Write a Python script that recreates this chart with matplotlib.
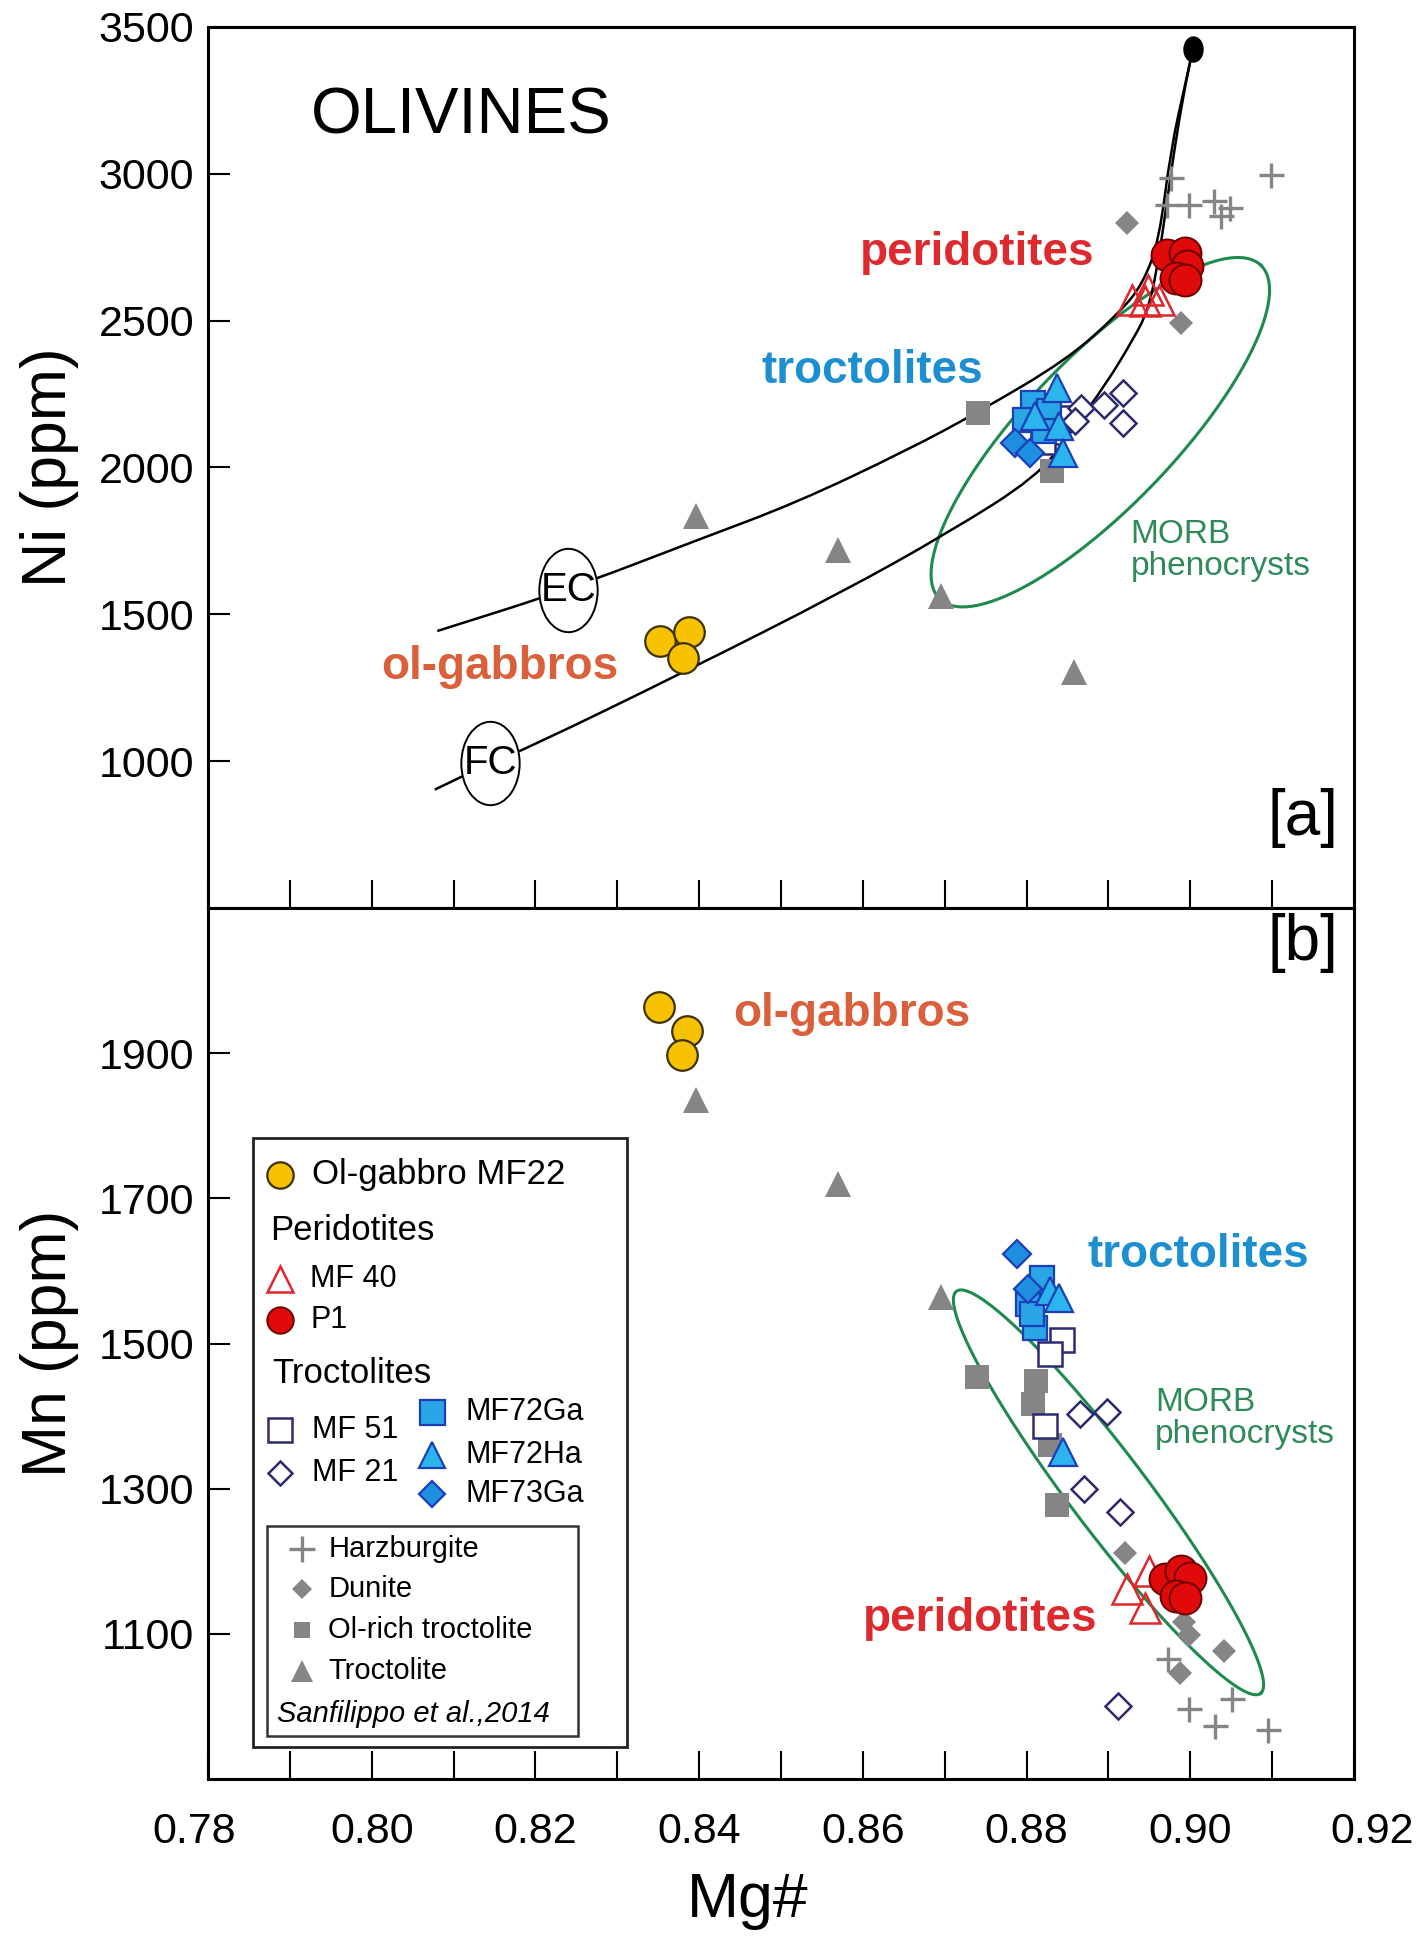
import numpy as np
import matplotlib.pyplot as plt
from matplotlib.path import Path
from matplotlib.patches import Rectangle, PathPatch
from matplotlib.transforms import ScaledTranslation

plt.rcParams['font.family'] = ['Liberation Sans', 'DejaVu Sans']

# ------------------------------------------
# Data: Mg# vs Ni (panel a) and Mg# vs Mn (panel b)
# ------------------------------------------
# Ol-gabbro MF22
gab_mg_a = [0.8352, 0.8387, 0.8380]
gab_ni = [1409, 1439, 1350]
gab_mg_b = [0.8351, 0.8385, 0.8379]
gab_mn = [1964, 1930, 1897]

# Peridotites MF 40 and P1
mf40_mg_a = [0.8929, 0.8948, 0.8962, 0.8945]
mf40_ni = [2571, 2605, 2571, 2566]
mf40_mg_b = [0.8949, 0.8923, 0.8945]
mf40_mn = [1186, 1162, 1135]

p1_mg_a = [0.8972, 0.8994, 0.8996, 0.8982, 0.8994]
p1_ni = [2724, 2730, 2685, 2645, 2639]
p1_mg_b = [0.8969, 0.8988, 0.9000, 0.8983, 0.8994]
p1_mn = [1175, 1186, 1177, 1152, 1149]

# Troctolites
mf51_mg_a = [0.8843, 0.8829, 0.8820]
mf51_ni = [2170, 2120, 2085]
mf51_mg_b = [0.8843, 0.8829, 0.8823]
mf51_mn = [1505, 1485, 1386]

mf21_mg_a = [0.8867, 0.8894, 0.8918, 0.8918, 0.8859]
mf21_ni = [2203, 2214, 2253, 2151, 2157]
mf21_mg_b = [0.8865, 0.8898, 0.8870, 0.8914, 0.8912]
mf21_mn = [1403, 1406, 1299, 1268, 1000]

mf72ga_mg_a = [0.8808, 0.8798, 0.8827, 0.8821]
mf72ga_ni = [2221, 2163, 2191, 2123]
mf72ga_mg_b = [0.8819, 0.8802, 0.8810, 0.8806]
mf72ga_mn = [1590, 1555, 1522, 1540]

mf72ha_mg_a = [0.8837, 0.8810, 0.8839, 0.8845]
mf72ha_ni = [2271, 2174, 2140, 2049]
mf72ha_mg_b = [0.8828, 0.8839, 0.8845]
mf72ha_mn = [1572, 1563, 1350]

mf73ga_mg_a = [0.8786, 0.8804]
mf73ga_ni = [2083, 2049]
mf73ga_mg_b = [0.8788, 0.8802]
mf73ga_mn = [1623, 1575]

# Sanfilippo et al. (2014) reference samples
hz_mg_a = [0.9098, 0.8976, 0.8971, 0.8998, 0.9029, 0.9038, 0.9049]
hz_ni = [2997, 2985, 2895, 2895, 2906, 2855, 2883]
hz_mg_b = [0.8973, 0.8998, 0.9030, 0.9051, 0.9095]
hz_mn = [1065, 996, 973, 1011, 968]

dun_mg_a = [0.8923, 0.8989]
dun_ni = [2831, 2492]
dun_mg_b = [0.8920, 0.8992, 0.8998, 0.9041, 0.8987]
dun_mn = [1211, 1117, 1099, 1076, 1046]

olt_mg_a = [0.8740, 0.8831]
olt_ni = [2187, 1987]
olt_mg_b = [0.8739, 0.8811, 0.8808, 0.8829, 0.8837]
olt_mn = [1454, 1448, 1416, 1360, 1278]

tro_mg_a = [0.8396, 0.8570, 0.8696, 0.8858]
tro_ni = [1834, 1720, 1561, 1304]
tro_mg_b = [0.8396, 0.8570, 0.8696]
tro_mn = [1836, 1720, 1564]

# Model curves (equilibrium and fractional crystallization)
ec_mg = [0.8080, 0.8240, 0.8399, 0.8519, 0.8655, 0.8740, 0.8850, 0.8913,
         0.8942, 0.8962, 0.8976, 0.8994, 0.9003]
ec_ni = [1443, 1584, 1754, 1880, 2060, 2187, 2368, 2526, 2625, 2776, 3082,
         3309, 3422]
fc_mg = [0.8077, 0.8145, 0.8192, 0.8388, 0.8573, 0.8704, 0.8813, 0.8852,
         0.8898, 0.8930, 0.8947, 0.8959, 0.8970, 0.8983, 0.8995, 0.9003]
fc_ni = [903, 994, 1046, 1312, 1573, 1777, 1969, 2112, 2288, 2436, 2526,
         2667, 2877, 3130, 3319, 3422]
ec_tag = (0.8240, 1584)
fc_tag = (0.8145, 994)
start_mg, start_ni = 0.9003, 3424

# MORB phenocryst fields: centre and two conjugate semi-axes
morb_a = dict(c=(0.8890, 2120), u=(0.01963, 568), v=(0.00649, -177))
morb_b = dict(c=(0.8900, 1295), u=(0.01857, -277), v=(0.00377, 32))

mg_ticks = np.round(np.arange(0.78, 0.9201, 0.01), 2)

# ------------------------------------------
# Styles
# ------------------------------------------
GRAY = '#858585'
NAVY = '#2b2a70'
BLUE_EDGE = '#1a3fb8'
GREEN = '#1e8a4e'
C_GAB = dict(marker='o', ms=22, mfc='#f7c200', mec='#3d3200', mew=1.6)
C_MF40 = dict(marker='^', ms=21, mfc='none', mec='#e0262b', mew=1.8)
C_P1 = dict(marker='o', ms=23, mfc='#e00a0a', mec='#6e0000', mew=1.4)
C_MF51 = dict(marker='s', ms=17, mfc='white', mec=NAVY, mew=1.8)
C_MF21 = dict(marker='D', ms=13.5, mfc='white', mec=NAVY, mew=1.8)
C_72GA = dict(marker='s', ms=17, mfc='#2aa6e6', mec=BLUE_EDGE, mew=1.6)
C_72HA = dict(marker='^', ms=20, mfc='#2cb5ec', mec=BLUE_EDGE, mew=1.6)
C_73GA = dict(marker='D', ms=14, mfc='#1e8fe0', mec=BLUE_EDGE, mew=1.6)
C_HZ = dict(marker='+', ms=18, mec=GRAY, mew=2.4)
C_DUN = dict(marker='D', ms=12, mfc=GRAY, mec=GRAY, mew=0)
C_OLT = dict(marker='s', ms=17, mfc=GRAY, mec=GRAY, mew=0)
C_TRO = dict(marker='^', ms=19, mfc=GRAY, mec=GRAY, mew=0)


def oval(ratio):
    circ = Path.unit_circle()
    return Path(circ.vertices * [ratio, 1.0], circ.codes)


def pts(ax, x, y, style, z=3):
    ax.plot(x, y, ls='none', zorder=z, **style)


def smooth(ax, xs, ys):
    # quadratic Bezier through the midpoints of the polyline
    p = np.column_stack([xs, ys])
    mid = (p[:-1] + p[1:]) / 2
    verts = [p[0], mid[0]]
    codes = [Path.MOVETO, Path.LINETO]
    for i in range(1, len(p) - 1):
        verts += [p[i], mid[i]]
        codes += [Path.CURVE3, Path.CURVE3]
    verts.append(p[-1])
    codes.append(Path.LINETO)
    ax.add_patch(PathPatch(Path(verts, codes), fill=False, ec='black',
                           lw=1.8, zorder=2))


def field(ax, f):
    t = np.linspace(0, 2 * np.pi, 300)
    x = f['c'][0] + f['u'][0] * np.cos(t) + f['v'][0] * np.sin(t)
    y = f['c'][1] + f['u'][1] * np.cos(t) + f['v'][1] * np.sin(t)
    ax.plot(x, y, color=GREEN, lw=2.2, zorder=2)


def frame(ax, yticks, ylim):
    ax.set_xlim(0.78, 0.92)
    ax.set_ylim(*ylim)
    ax.set_xticks(mg_ticks)
    ax.set_xticklabels([f'{v:.2f}' if i % 2 == 0 else '' for i, v in enumerate(mg_ticks)])
    ax.set_yticks(yticks)
    ax.tick_params(axis='x', direction='in', length=20, width=1.5,
                   labelsize=31, pad=24)
    ax.tick_params(axis='y', direction='in', length=16, width=1.5,
                   labelsize=31, pad=10)
    for s in ax.spines.values():
        s.set_linewidth(2.2)


fig = plt.figure(figsize=(14.21, 19.38), dpi=100)
ax1 = fig.add_axes([0.1464, 0.5315, 0.8065, 0.4546])
ax2 = fig.add_axes([0.1464, 0.0820, 0.8065, 0.4495])

# ------------------------------------------
# [a] Ni vs Mg#
# ------------------------------------------
frame(ax1, [1000, 1500, 2000, 2500, 3000, 3500], (500, 3500))
ax1.tick_params(axis='x', labelbottom=False)
ax1.set_ylabel('Ni (ppm)', fontsize=45)
ax1.yaxis.set_label_coords(-0.113, 0.5)

field(ax1, morb_a)
smooth(ax1, ec_mg, ec_ni)
smooth(ax1, fc_mg, fc_ni)
ax1.plot([start_mg], [start_ni], ls='none', marker=oval(0.76), ms=18,
         mfc='black', mec='black', zorder=5)

pts(ax1, hz_mg_a, hz_ni, C_HZ)
pts(ax1, dun_mg_a, dun_ni, C_DUN)
pts(ax1, olt_mg_a, olt_ni, C_OLT)
pts(ax1, tro_mg_a, tro_ni, C_TRO)
pts(ax1, gab_mg_a, gab_ni, C_GAB, 4)
pts(ax1, mf51_mg_a, mf51_ni, C_MF51, 4)
pts(ax1, mf21_mg_a, mf21_ni, C_MF21, 4)
pts(ax1, mf72ga_mg_a, mf72ga_ni, C_72GA, 5)
pts(ax1, mf73ga_mg_a, mf73ga_ni, C_73GA, 5)
pts(ax1, mf72ha_mg_a, mf72ha_ni, C_72HA, 6)
pts(ax1, mf40_mg_a, mf40_ni, C_MF40, 6)
pts(ax1, p1_mg_a, p1_ni, C_P1, 6)

# curve tags
narrow = ['Liberation Sans Narrow', 'Liberation Sans']
for (x, y), tag in [(ec_tag, 'EC'), (fc_tag, 'FC')]:
    ax1.plot([x], [y], ls='none', marker=oval(0.7), ms=60, mfc='white',
             mec='black', mew=1.4, zorder=6)
    ax1.text(x, y, tag, ha='center', va='center', fontsize=29,
             family=narrow, zorder=7)

ax1.text(0.0899, 0.898, 'OLIVINES', transform=ax1.transAxes, fontsize=47,
         ha='left', va='center')
ax1.text(0.986, 0.102, '[a]', transform=ax1.transAxes, fontsize=46,
         ha='right', va='center')
ax1.text(0.8739, 2730, 'peridotites', color='#dc2a2e', fontsize=33,
         fontweight='bold', ha='center', va='center')
ax1.text(0.8612, 2330, 'troctolites', color='#1d8fd0', fontsize=33,
         fontweight='bold', ha='center', va='center')
ax1.text(0.8157, 1321, 'ol-gabbros', color='#d9603a', fontsize=33,
         fontweight='bold', ha='center', va='center')
ax1.text(0.8927, 1718, 'MORB\nphenocrysts', color='#2e8b57', fontsize=24,
         ha='left', va='center', linespacing=1.05)

# ------------------------------------------
# [b] Mn vs Mg#
# ------------------------------------------
frame(ax2, [1100, 1300, 1500, 1700, 1900], (900, 2100))
ax2.set_xlabel('Mg#', fontsize=45)
ax2.xaxis.set_label_coords(0.471, -0.105)
ax2.set_ylabel('Mn (ppm)', fontsize=45)
ax2.yaxis.set_label_coords(-0.113, 0.5)

# end labels sit slightly outside the frame
ticklabels = ax2.get_xticklabels()
for lbl, dx in [(ticklabels[0], -0.14), (ticklabels[-1], 0.18)]:
    lbl.set_transform(lbl.get_transform() + ScaledTranslation(dx, 0, fig.dpi_scale_trans))

field(ax2, morb_b)
pts(ax2, hz_mg_b, hz_mn, C_HZ)
pts(ax2, dun_mg_b, dun_mn, C_DUN)
pts(ax2, olt_mg_b, olt_mn, C_OLT)
pts(ax2, tro_mg_b, tro_mn, C_TRO)
pts(ax2, gab_mg_b, gab_mn, C_GAB, 4)
pts(ax2, mf51_mg_b, mf51_mn, C_MF51, 4)
pts(ax2, mf21_mg_b, mf21_mn, C_MF21, 4)
pts(ax2, mf72ga_mg_b, mf72ga_mn, C_72GA, 5)
pts(ax2, mf73ga_mg_b, mf73ga_mn, C_73GA, 5)
pts(ax2, mf72ha_mg_b, mf72ha_mn, C_72HA, 6)
pts(ax2, mf40_mg_b, mf40_mn, C_MF40, 6)
pts(ax2, p1_mg_b, p1_mn, C_P1, 6)

ax2.text(0.986, 0.960, '[b]', transform=ax2.transAxes, fontsize=46,
         ha='right', va='center')
ax2.text(0.8586, 1954, 'ol-gabbros', color='#d9603a', fontsize=33,
         fontweight='bold', ha='center', va='center')
ax2.text(0.9010, 1622, 'troctolites', color='#1d8fd0', fontsize=33,
         fontweight='bold', ha='center', va='center')
ax2.text(0.8743, 1121, 'peridotites', color='#dc2a2e', fontsize=33,
         fontweight='bold', ha='center', va='center')
ax2.text(0.8957, 1397, 'MORB\nphenocrysts', color='#2e8b57', fontsize=24,
         ha='left', va='center', linespacing=1.05)

# ------------------------------------------
# Legend (drawn by hand, axes coordinates of panel b)
# ------------------------------------------
T = ax2.transAxes
ax2.add_patch(Rectangle((0.0395, 0.0373), 0.3257, 0.6982, transform=T,
                        fill=True, fc='white', ec='#222222', lw=2.0, zorder=8))
ax2.add_patch(Rectangle((0.0512, 0.0494), 0.2717, 0.2411, transform=T,
                        fill=False, ec='#333333', lw=1.8, zorder=9))


def key(x, y, label, style, tx, size=23, italic=False):
    if style is not None:
        ax2.plot([x], [y], transform=T, ls='none', clip_on=False, zorder=10,
                 **style)
    ax2.text(tx, y, label, transform=T, fontsize=size, ha='left',
             va='center', zorder=10, style='italic' if italic else 'normal')


key(0.0628, 0.6935, 'Ol-gabbro MF22', dict(C_GAB, ms=19), 0.0905, 25)
key(0, 0.6303, 'Peridotites', None, 0.0541, 25)
key(0.0628, 0.5741, 'MF 40', dict(C_MF40, ms=19), 0.0890, 22)
key(0.0628, 0.5270, 'P1', dict(C_P1, ms=19), 0.0890, 22)
key(0, 0.4661, 'Troctolites', None, 0.0556, 25)
key(0.0628, 0.4007, 'MF 51', dict(C_MF51, ms=17), 0.0905, 22)
key(0.0628, 0.3513, 'MF 21', dict(C_MF21, ms=12), 0.0905, 22)
key(0.1952, 0.4216, 'MF72Ga', dict(C_72GA, ms=18), 0.2243, 22)
key(0.1952, 0.3723, 'MF72Ha', dict(C_72HA, ms=19), 0.2243, 22)
key(0.1952, 0.3278, 'MF73Ga', dict(C_73GA, ms=13), 0.2243, 22)
key(0.0818, 0.2645, 'Harzburgite', dict(C_HZ, ms=19), 0.1050, 21)
key(0.0818, 0.2177, 'Dunite', dict(C_DUN, ms=10), 0.1050, 21)
key(0.0818, 0.1711, 'Ol-rich troctolite', dict(C_OLT, ms=12), 0.1050, 21)
key(0.0818, 0.1240, 'Troctolite', dict(C_TRO, ms=16), 0.1050, 21)
key(0, 0.0746, 'Sanfilippo et al.,2014', None, 0.0599, 21, italic=True)

fig.savefig('out.png', dpi=100)
